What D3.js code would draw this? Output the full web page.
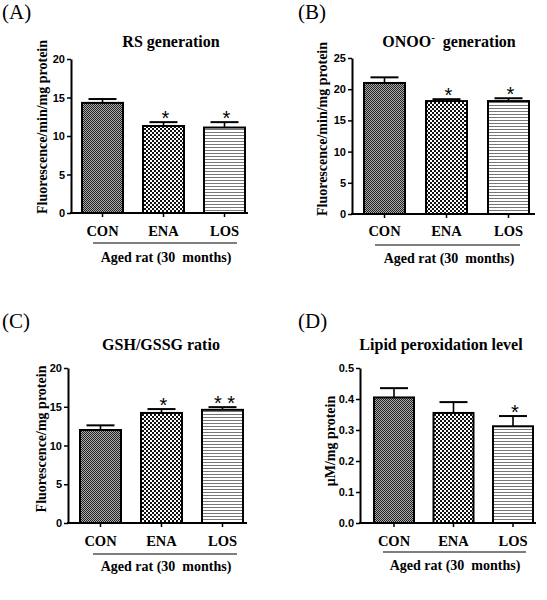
<!DOCTYPE html>
<html><head><meta charset="utf-8">
<script src="https://cdn.jsdelivr.net/npm/d3@7"></script>
<style>body{margin:0;background:#fff}svg{display:block}</style>
</head><body>
<script>
// ---- data ----
const categories = ["CON", "ENA", "LOS"];
const groupLabel = "Aged rat (30  months)";

const rsMean = [14.3, 11.3, 11.1];
const rsErr = [0.5, 0.5, 0.7];
const rsSig = ["", "*", "*"];
const rsTicks = [0, 5, 10, 15, 20];

const onooMean = [21.0, 18.1, 18.1];
const onooErr = [0.9, 0.3, 0.45];
const onooSig = ["", "*", "*"];
const onooTicks = [0, 5, 10, 15, 20, 25];

const gshMean = [12.0, 14.2, 14.6];
const gshErr = [0.6, 0.5, 0.35];
const gshSig = ["", "*", "* *"];
const gshTicks = [0, 5, 10, 15, 20];

const lipidMean = [0.405, 0.355, 0.312];
const lipidErr = [0.03, 0.035, 0.033];
const lipidSig = ["", "", "*"];
const lipidTicks = [0, 0.1, 0.2, 0.3, 0.4, 0.5];

// ---- layout ----
const W = 547, H = 600;
const serif = "'Liberation Serif','Times New Roman',serif";
const narrow = "'Liberation Sans Narrow','Arial Narrow','Liberation Sans',Arial,sans-serif";
const sans = "'Liberation Sans',Arial,sans-serif";

const svg = d3.select("body").append("svg").attr("width", W).attr("height", H);
const defs = svg.append("defs");

// patterns
const p1 = defs.append("pattern").attr("id", "patCON").attr("patternUnits", "userSpaceOnUse").attr("width", 2).attr("height", 2);
p1.append("rect").attr("width", 2).attr("height", 2).attr("fill", "#aaa");
p1.append("rect").attr("x", 0).attr("y", 0).attr("width", 1).attr("height", 1).attr("fill", "#222");
p1.append("rect").attr("x", 1).attr("y", 1).attr("width", 1).attr("height", 1).attr("fill", "#222");

const p2 = defs.append("pattern").attr("id", "patENA").attr("patternUnits", "userSpaceOnUse").attr("width", 4).attr("height", 4);
p2.append("rect").attr("width", 4).attr("height", 4).attr("fill", "#fff");
p2.append("rect").attr("x", 0).attr("y", 0).attr("width", 2).attr("height", 2).attr("fill", "#111");
p2.append("rect").attr("x", 2).attr("y", 2).attr("width", 2).attr("height", 2).attr("fill", "#111");

const p3 = defs.append("pattern").attr("id", "patLOS").attr("patternUnits", "userSpaceOnUse").attr("width", 4).attr("height", 3);
p3.append("rect").attr("width", 4).attr("height", 3).attr("fill", "#fff");
p3.append("rect").attr("x", 0).attr("y", 0).attr("width", 4).attr("height", 1).attr("fill", "#777");

const fills = ["url(#patCON)", "url(#patENA)", "url(#patLOS)"];

const panels = [
  {label: "(A)", lx: 2, ly: 19, title: ["RS generation"], tx: 171, ty: 47,
   axisX: 71, axisEnd: 248, yTop: 59, yBot: 213, firstLeft: 82, step: 61, barW: 41,
   ylabel: "Fluorescence/min/mg protein", ylx: 47, yly: 127,
   catY: 236, lineY: 243, lineX0: 93, lineX1: 237, groupY: 262, groupX: 166,
   mean: rsMean, err: rsErr, sig: rsSig, ticks: rsTicks, fmt: d3.format("d")},
  {label: "(B)", lx: 298, ly: 19, title: null, tx: 449, ty: 47,
   axisX: 352, axisEnd: 535, yTop: 58, yBot: 214, firstLeft: 364, step: 62, barW: 41,
   ylabel: "Fluorescence/min/mg protein", ylx: 327, yly: 129,
   catY: 236, lineY: 245, lineX0: 375, lineX1: 520, groupY: 263, groupX: 449,
   mean: onooMean, err: onooErr, sig: onooSig, ticks: onooTicks, fmt: d3.format("d")},
  {label: "(C)", lx: 2, ly: 328, title: ["GSH/GSSG ratio"], tx: 161, ty: 350,
   axisX: 68, axisEnd: 247, yTop: 368, yBot: 523, firstLeft: 80, step: 61, barW: 41,
   ylabel: "Fluorescence/mg protein", ylx: 45.5, yly: 439,
   catY: 546, lineY: 554, lineX0: 93, lineX1: 237, groupY: 571, groupX: 166,
   mean: gshMean, err: gshErr, sig: gshSig, ticks: gshTicks, fmt: d3.format("d")},
  {label: "(D)", lx: 298, ly: 328, title: ["Lipid peroxidation level"], tx: 441, ty: 350,
   axisX: 360, axisEnd: 536, yTop: 368, yBot: 523, firstLeft: 374, step: 59.5, barW: 40,
   ylabel: "\u03bcM/mg protein", ylx: 335, yly: 441,
   catY: 546, lineY: 552, lineX0: 383, lineX1: 526, groupY: 570, groupX: 455,
   mean: lipidMean, err: lipidErr, sig: lipidSig, ticks: lipidTicks, fmt: d3.format(".1f")}
];

panels.forEach(p => {
  const g = svg.append("g");
  const yMax = p.ticks[p.ticks.length - 1];
  const y = d3.scaleLinear().domain([0, yMax]).range([p.yBot, p.yTop]);
  const po = (p.firstLeft - p.axisX) / p.step;
  const pi = 1 - p.barW / p.step;
  const x = d3.scaleBand().domain(categories)
    .range([p.axisX, p.axisX + p.step * (categories.length - pi + 2 * po)])
    .paddingInner(pi).paddingOuter(po);

  g.append("text").attr("x", p.lx).attr("y", p.ly).attr("font-family", serif)
    .attr("font-size", 21).text(p.label);

  const t = g.append("text").attr("x", p.tx).attr("y", p.ty).attr("text-anchor", "middle")
    .attr("font-family", serif).attr("font-weight", "bold").attr("font-size", 16)
    .style("white-space", "pre");
  if (p.title) {
    t.text(p.title[0]);
  } else {
    t.append("tspan").text("ONOO");
    t.append("tspan").attr("dy", -6).attr("font-size", 11).text("-");
    t.append("tspan").attr("dy", 6).text("  generation");
  }

  g.append("text").attr("transform", `translate(${p.ylx},${p.yly}) rotate(-90)`)
    .attr("text-anchor", "middle").attr("font-family", serif).attr("font-weight", "bold")
    .attr("font-size", 14).text(p.ylabel);

  const bars = g.append("g");
  categories.forEach((c, i) => {
    bars.append("rect").attr("x", x(c)).attr("y", y(p.mean[i]))
      .attr("width", x.bandwidth()).attr("height", y(0) - y(p.mean[i]))
      .attr("fill", fills[i]).attr("stroke", "#000").attr("stroke-width", 2);
    const cx = x(c) + x.bandwidth() / 2;
    const top = y(p.mean[i] + p.err[i]);
    bars.append("line").attr("x1", cx).attr("x2", cx).attr("y1", y(p.mean[i])).attr("y2", top)
      .attr("stroke", "#000").attr("stroke-width", 1.6);
    bars.append("line").attr("x1", cx - 14).attr("x2", cx + 14).attr("y1", top).attr("y2", top)
      .attr("stroke", "#000").attr("stroke-width", 2);
    if (p.sig[i]) {
      bars.append("text").attr("x", cx + 2).attr("y", top + 3).attr("text-anchor", "middle")
        .attr("font-family", sans).attr("font-size", 20).style("white-space", "pre").text(p.sig[i]);
    }
  });

  const ya = g.append("g").attr("transform", `translate(${p.axisX},0)`)
    .call(d3.axisLeft(y).tickValues(p.ticks).tickFormat(p.fmt).tickSize(4).tickSizeOuter(0).tickPadding(2));
  ya.select(".domain").attr("stroke-width", 2);
  ya.selectAll(".tick line").attr("stroke-width", 1.5);
  ya.selectAll("text").attr("font-family", narrow).attr("font-weight", "bold").attr("font-size", 11);

  const xa = g.append("g").attr("transform", `translate(0,${p.yBot})`)
    .call(d3.axisBottom(x).tickSize(4).tickFormat(""));
  xa.select(".domain").remove();
  xa.selectAll(".tick line").attr("stroke-width", 1.5);
  g.append("line").attr("x1", p.axisX - 1).attr("x2", p.axisEnd).attr("y1", p.yBot).attr("y2", p.yBot)
    .attr("stroke", "#000").attr("stroke-width", 2);

  categories.forEach(c => {
    g.append("text").attr("x", x(c) + x.bandwidth() / 2).attr("y", p.catY).attr("text-anchor", "middle")
      .attr("font-family", serif).attr("font-weight", "bold").attr("font-size", 14.5).text(c);
  });
  g.append("line").attr("x1", p.lineX0).attr("x2", p.lineX1).attr("y1", p.lineY).attr("y2", p.lineY)
    .attr("stroke", "#000").attr("stroke-width", 1.2);
  g.append("text").attr("x", p.groupX).attr("y", p.groupY).attr("text-anchor", "middle")
    .attr("font-family", serif).attr("font-weight", "bold").attr("font-size", 14)
    .style("white-space", "pre").text(groupLabel);
});
</script>
</body></html>
